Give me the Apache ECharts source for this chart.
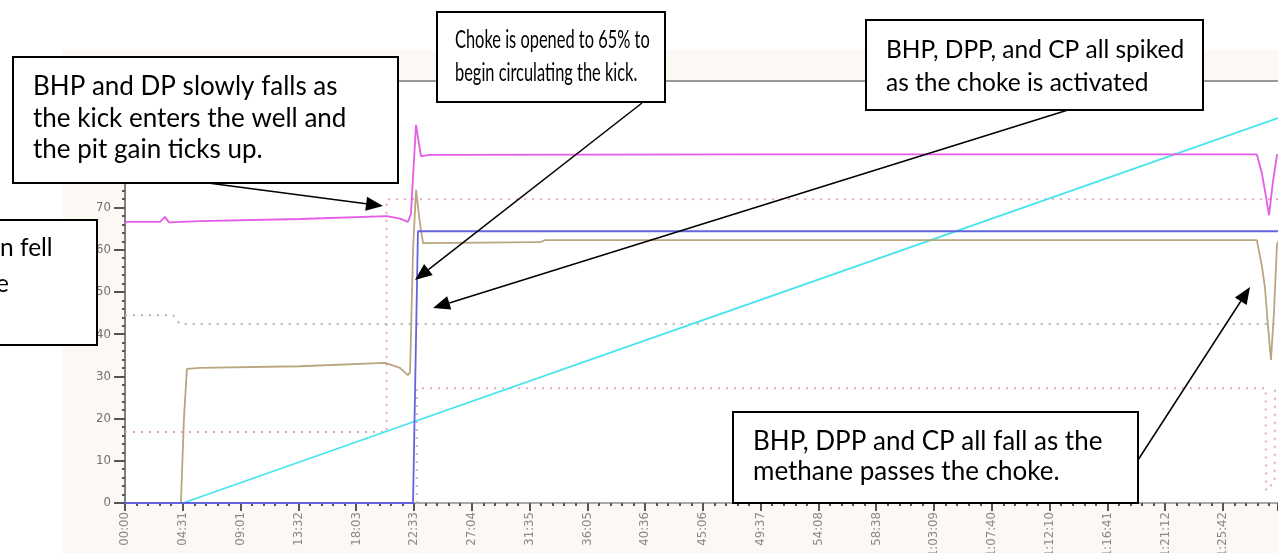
<!DOCTYPE html>
<html>
<head>
<meta charset="utf-8">
<script src="https://cdn.jsdelivr.net/npm/echarts@6/dist/echarts.min.js"></script>
<style>
  html, body { margin: 0; padding: 0; background: #fff; }
  #main { width: 1278px; height: 553px; }
</style>
</head>
<body>
<div id="main"></div>
<script>
// time axis in seconds, ticks every ~4:30.6
var timeStep = 270.645;
var timeMax = 5400;
var valueMin = 0, valueMax = 100, valueStep = 10;

// [seconds, value]
var bhp = [[0, 66.6], [164, 66.6], [187, 67.8], [206, 66.5], [351, 66.8], [820, 67.3], [1227, 68.0],
  [1288, 67.4], [1325, 66.6], [1339, 68.5], [1363, 89.6], [1386, 82.2], [1430, 82.5], [3000, 82.6],
  [5301, 82.6], [5325, 78], [5339, 74], [5358, 68.2], [5376, 76], [5395, 82.4], [5400, 82.6]];
var dpp = [[0, 0], [262, 0], [276, 20], [290, 31.8], [351, 32.0], [820, 32.4], [1218, 33.2], [1288, 32.0],
  [1325, 30.3], [1335, 31], [1349, 60], [1363, 74.2], [1382, 66], [1396, 61.6], [1944, 61.8], [1967, 62.3],
  [5301, 62.3], [5325, 56], [5339, 51], [5353, 42], [5367, 33.9], [5381, 45], [5395, 61], [5400, 62]];
var cp = [[0, 0], [1349, 0], [1372, 64.4], [5400, 64.4]];
var pitGain = [[272, 0], [1349, 19.2], [2700, 43.2], [4050, 67.2], [5400, 91.2]];
var limitGray = [[0, 44.5], [225, 44.5], [258, 42.4], [5400, 42.4]];
var limitPinkA = [[0, 16.8], [1225, 16.8], [1225, 72], [5400, 72]];
var limitPinkB = [[1366, 0], [1366, 27.2], [5342, 27.2], [5344, 3], [5384, 5], [5386, 27.2], [5400, 27.2]];

var boxFont = '24.5px Lato';

function fmtTime(v) {
  var s = Math.round(v);
  var h = Math.floor(s / 3600), m = Math.floor((s % 3600) / 60), sec = s % 60;
  var mm = (m < 10 ? '0' : '') + m, ss = (sec < 10 ? '0' : '') + sec;
  return h > 0 ? h + ':' + mm + ':' + ss : mm + ':' + ss;
}

// callout box: rect + text
function box(x, y, w, h, text, tx, ty, lh, sx, font) {
  return [
    { type: 'rect', z: 100, shape: { x: x, y: y, width: w, height: h },
      style: { fill: '#fff', stroke: '#000', lineWidth: 2 } },
    { type: 'text', z: 101, x: tx, y: ty, scaleX: sx || 1,
      style: { text: text, font: font || boxFont, fill: '#000', lineHeight: lh, align: 'left', verticalAlign: 'top' } }
  ];
}

function arrow(x1, y1, x2, y2) {
  var a = Math.atan2(y2 - y1, x2 - x1), len = 17, w = 7;
  var bx = x2 - len * Math.cos(a), by = y2 - len * Math.sin(a);
  return [
    { type: 'line', z: 100, shape: { x1: x1, y1: y1, x2: bx, y2: by }, style: { stroke: '#000', lineWidth: 1.5 } },
    { type: 'polygon', z: 100, shape: { points: [[x2, y2],
      [bx - w * Math.sin(a), by + w * Math.cos(a)], [bx + w * Math.sin(a), by - w * Math.cos(a)]] },
      style: { fill: '#000' } }
  ];
}

function lineSeries(name, data, color, dotted) {
  return {
    name: name, type: 'line', data: data, symbol: 'none', animation: false,
    lineStyle: { color: color, width: dotted ? 2 : 1.8, type: dotted ? [2, 6] : 'solid' },
    z: dotted ? 1 : 2
  };
}

var chart = echarts.init(document.getElementById('main'));

var graphics = [
  { type: 'rect', z: -10, shape: { x: 63, y: 50, width: 1215, height: 503 }, style: { fill: '#fcf8f4' } }
]
  .concat(arrow(208, 183, 383, 206))
  .concat(arrow(642, 103, 415, 280))
  .concat(arrow(1068, 110, 433, 308))
  .concat(arrow(1138, 460, 1250, 287))
  .concat(box(13, 57, 385, 126, 'BHP and DP slowly falls as\nthe kick enters the well and\nthe pit gain ticks up.', 33, 71, 31.5, 1, '26px Lato'))
  .concat(box(437, 12, 228, 90, 'Choke is opened to 65% to\nbegin circulating the kick.', 455, 23.5, 33, 0.67))
  .concat(box(866, 20, 337, 90, 'BHP, DPP, and CP all spiked\nas the choke is activated', 886, 33.5, 33))
  .concat(box(733, 412, 405, 91, 'BHP, DPP and CP all fall as the\nmethane passes the choke.', 753, 427, 30, 1, '26px Lato'))
  .concat([
    { type: 'rect', z: 100, shape: { x: -5, y: 220, width: 102, height: 125 },
      style: { fill: '#fff', stroke: '#000', lineWidth: 2 } },
    { type: 'text', z: 101, x: 0, y: 248,
      style: { text: 'n fell', font: boxFont, fill: '#000', align: 'left', verticalAlign: 'middle' } },
    { type: 'text', z: 101, x: -4, y: 284,
      style: { text: 'e', font: boxFont, fill: '#000', align: 'left', verticalAlign: 'middle' } }
  ]);

var option = {
  backgroundColor: '#fff',
  animation: false,
  grid: { left: 125, right: 0, top: 81, bottom: 50, show: true, backgroundColor: '#fff', borderWidth: 0,
    containLabel: false, outerBoundsMode: 'none' },
  xAxis: [
    {
      type: 'value', min: 0, max: timeMax, interval: timeStep,
      axisLine: { lineStyle: { color: '#a8a8a8', width: 2 } },
      axisTick: { length: 8, lineStyle: { color: '#555', width: 2 } },
      minorTick: { show: true, splitNumber: 5, length: 3, lineStyle: { color: '#555', width: 2 } },
      splitLine: { show: false },
      axisLabel: { rotate: 90, margin: 9, color: '#8a8a8a', fontSize: 13,
        fontFamily: 'DejaVu Sans Condensed', showMaxLabel: false, formatter: fmtTime }
    },
    {
      type: 'value', position: 'top', min: 0, max: timeMax,
      axisLine: { show: true, lineStyle: { color: '#9a9a9a', width: 2 } },
      axisTick: { show: false }, axisLabel: { show: false }, splitLine: { show: false }
    }
  ],
  yAxis: {
    type: 'value', min: valueMin, max: valueMax, interval: valueStep,
    axisLine: { show: true, lineStyle: { color: '#808080', width: 2 } },
    axisTick: { show: true, length: 11, lineStyle: { color: '#555', width: 2 } },
    minorTick: { show: true, splitNumber: 5, length: 3, lineStyle: { color: '#555', width: 2 } },
    splitLine: { show: false },
    axisLabel: { margin: 14, color: '#707070', fontSize: 13, fontFamily: 'DejaVu Sans Condensed' }
  },
  series: [
    lineSeries('Limit A', limitPinkA, '#eaa2c2', true),
    lineSeries('Limit B', limitPinkB, '#e2a6c6', true),
    lineSeries('Limit C', limitGray, '#b6b6b6', true),
    lineSeries('Pit gain', pitGain, '#44e4ee', false),
    lineSeries('DPP', dpp, '#b9a67f', false),
    lineSeries('BHP', bhp, '#e65ce6', false),
    lineSeries('CP', cp, '#6464e0', false)
  ],
  graphic: graphics
};

chart.setOption(option);
</script>
</body>
</html>
